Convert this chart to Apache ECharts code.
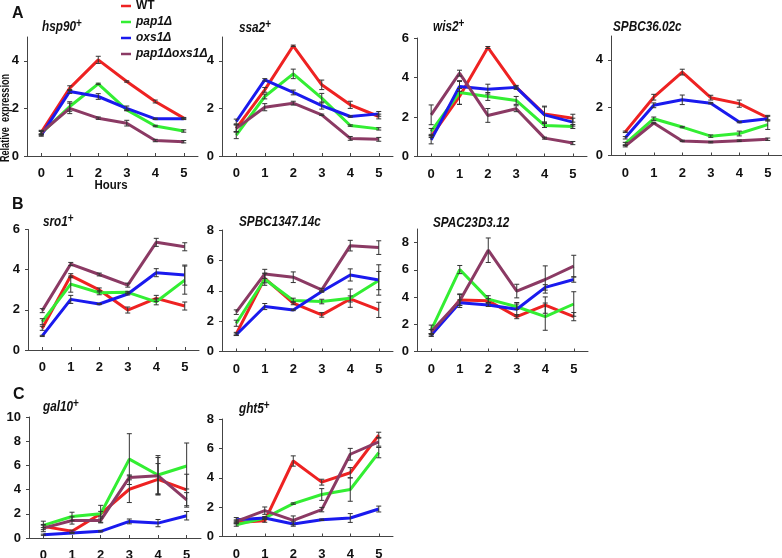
<!DOCTYPE html>
<html><head><meta charset="utf-8">
<script src="https://cdn.jsdelivr.net/npm/echarts@6/dist/echarts.min.js"></script>
<style>html,body{margin:0;padding:0;background:#fff}#c{width:782px;height:558px}</style>
</head><body><div id="c"></div><script>
// ---------- data ----------
const hours = ['0','1','2','3','4','5'];
const strains = ['WT','pap1Δ','oxs1Δ','pap1Δoxs1Δ'];

const hsp90 = [[1.0,2.85,4.04,3.13,2.29,1.59],[0.95,2.08,3.03,1.94,1.26,1.05],[0.88,2.71,2.5,2.0,1.56,1.56],[0.98,2.0,1.59,1.38,0.65,0.6]];
const hsp90Err = [[0.08,0.1,0.15,0.03,0.06,0.03],[0.08,0.2,0.03,0.03,0.03,0.05],[0.05,0.08,0.12,0.1,0.03,0.03],[0.08,0.22,0.05,0.12,0.05,0.05]];

const ssa2 = [[1.16,2.78,4.63,2.99,2.15,1.66],[0.88,2.5,3.45,2.43,1.28,1.14],[1.45,3.2,2.67,2.12,1.66,1.77],[1.16,2.05,2.22,1.73,0.74,0.7]];
const ssa2Err = [[0.15,0.1,0.03,0.2,0.15,0.1],[0.15,0.1,0.2,0.2,0.03,0.05],[0.1,0.05,0.1,0.15,0.03,0.1],[0.15,0.15,0.08,0.03,0.08,0.08]];

const wis2 = [[1.01,3.04,5.52,3.51,2.15,1.94],[1.27,3.24,3.04,2.84,1.57,1.52],[0.84,3.55,3.41,3.5,2.11,1.74],[2.11,4.22,2.08,2.42,0.93,0.68]];
const wis2Err = [[0.05,0.4,0.05,0.05,0.4,0.2],[0.15,0.6,0.2,0.2,0.1,0.1],[0.2,0.25,0.25,0.1,0.4,0.2],[0.5,0.15,0.35,0.15,0.05,0.08]];

const spbc36 = [[0.99,2.44,3.49,2.42,2.17,1.58],[0.5,1.54,1.19,0.81,0.92,1.29],[0.74,2.1,2.33,2.19,1.4,1.54],[0.39,1.36,0.61,0.56,0.62,0.68]];
const spbc36Err = [[0.03,0.12,0.12,0.1,0.15,0.1],[0.05,0.07,0.03,0.05,0.1,0.2],[0.05,0.1,0.2,0.03,0.03,0.1],[0.03,0.03,0.03,0.03,0.03,0.05]];

const sro1 = [[1.08,3.7,2.99,1.99,2.57,2.19],[1.41,3.28,2.85,2.87,2.4,3.48],[0.7,2.52,2.29,2.79,3.85,3.73],[1.96,4.28,3.76,3.23,5.36,5.14]];
const sro1Err = [[0.1,0.1,0.1,0.15,0.15,0.2],[0.15,0.4,0.1,0.05,0.15,0.7],[0.03,0.2,0.03,0.05,0.2,0.5],[0.1,0.08,0.07,0.1,0.2,0.2]];

const spbc1347 = [[1.16,4.82,3.18,2.41,3.46,2.74],[1.86,4.76,3.36,3.29,3.51,4.67],[1.1,2.96,2.74,3.95,5.04,4.71],[2.59,5.11,4.89,4.06,6.97,6.84]];
const spbc1347Err = [[0.1,0.3,0.1,0.15,0.2,0.5],[0.2,0.4,0.15,0.15,0.6,0.6],[0.05,0.2,0.05,0.05,0.4,1.0],[0.15,0.3,0.35,0.1,0.35,0.45]];

const spac23 = [[1.22,3.78,3.73,2.56,3.41,2.56],[1.59,6.02,3.85,3.29,2.56,3.49],[1.22,3.59,3.41,3.1,4.71,5.29],[1.46,3.73,7.44,4.44,5.29,6.27]];
const spac23Err = [[0.1,0.4,0.15,0.15,0.6,0.3],[0.35,0.3,0.25,0.2,1.0,0.9],[0.1,0.2,0.1,0.5,0.2,0.2],[0.15,0.5,0.9,0.5,1.0,0.8]];

const gal10 = [[0.96,0.55,2.0,4.03,4.85,3.97],[1.04,1.78,2.0,6.52,5.21,5.95],[0.27,0.41,0.55,1.37,1.23,1.84],[0.82,1.45,1.45,5.01,5.15,3.15]];
const gal10Err = [[0.1,0.1,0.2,1.1,1.3,1.3],[0.35,0.35,0.7,2.1,1.6,1.9],[0.05,0.05,0.05,0.2,0.3,0.35],[0.3,0.3,0.2,0.2,1.5,0.6]];

const ght5 = [[0.96,1.07,5.14,3.7,4.34,6.9],[0.8,1.26,2.24,2.86,3.2,5.71],[1.14,1.26,0.85,1.14,1.26,1.87],[1.03,1.76,1.1,1.83,5.6,6.45]];
const ght5Err = [[0.1,0.1,0.35,0.2,0.35,0.2],[0.1,0.1,0.05,0.4,0.8,0.35],[0.15,0.05,0.15,0.05,0.3,0.2],[0.1,0.25,0.3,0.15,0.4,0.3]];

// ---------- layout / style ----------
const FONT = "'Liberation Sans',Arial,sans-serif";
const colors = ['#ee2222','#33ee33','#1a1aee','#8b3a64'];
const panels = [
 {g:'hsp90', sup:'+', d:hsp90, e:hsp90Err, max:5, left:27, top:37, w:171, h:119, tx:42, ty:27},
 {g:'ssa2', sup:'+', d:ssa2, e:ssa2Err, max:5, left:222, top:37, w:171, h:119, tx:239, ty:28},
 {g:'wis2', sup:'+', d:wis2, e:wis2Err, max:6, left:417, top:38, w:170, h:118.5, tx:433, ty:27},
 {g:'SPBC36.02c', sup:'', d:spbc36, e:spbc36Err, max:5, left:611, top:36, w:171, h:119.5, tx:613, ty:27},
 {g:'sro1', sup:'+', d:sro1, e:sro1Err, max:6, left:28, top:229.5, w:171, h:120.5, tx:43, ty:222},
 {g:'SPBC1347.14c', sup:'', d:spbc1347, e:spbc1347Err, max:8, left:222, top:230, w:171, h:121.5, tx:239, ty:222},
 {g:'SPAC23D3.12', sup:'', d:spac23, e:spac23Err, max:9, left:417, top:229, w:171, h:122.5, tx:433, ty:223},
 {g:'gal10', sup:'+', d:gal10, e:gal10Err, max:10, left:29, top:417, w:172, h:121, tx:43, ty:407},
 {g:'ght5', sup:'+', d:ght5, e:ght5Err, max:8, left:222, top:419, w:171, h:117.5, tx:239, ty:409}
];

const axisColor = '#444';
const labelStyle = {fontFamily:FONT, fontSize:13, fontWeight:'bold', color:'#111'};

function renderErr(params, api){
  const x = api.value(0), v = api.value(1), e = api.value(2);
  const hi = api.coord([x, v + e]), lo = api.coord([x, v - e]);
  const w = 2.5;
  const style = {stroke:'#333', lineWidth:1};
  return {type:'group', children:[
    {type:'line', shape:{x1:hi[0], y1:hi[1], x2:lo[0], y2:lo[1]}, style},
    {type:'line', shape:{x1:hi[0]-w, y1:hi[1], x2:hi[0]+w, y2:hi[1]}, style},
    {type:'line', shape:{x1:lo[0]-w, y1:lo[1], x2:lo[0]+w, y2:lo[1]}, style}
  ]};
}

const grid = [], xAxis = [], yAxis = [], series = [], graphic = [];
panels.forEach((p, i) => {
  grid.push({left:p.left, top:p.top, width:p.w, height:p.h, containLabel:false, outerBoundsMode:'none'});
  xAxis.push({type:'category', gridIndex:i, data:hours, boundaryGap:true,
    axisLine:{lineStyle:{color:axisColor, width:1}},
    axisTick:{show:true, alignWithLabel:true, inside:true, length:3, lineStyle:{color:axisColor}},
    axisLabel:Object.assign({margin:11}, labelStyle), splitLine:{show:false}});
  const tv = []; for (let v = 0; v <= p.max; v += 2) tv.push(v);
  yAxis.push({type:'value', gridIndex:i, min:0, max:p.max, interval:2,
    axisLine:{show:true, lineStyle:{color:axisColor, width:1}},
    axisTick:{show:true, length:3, customValues:tv, lineStyle:{color:axisColor}},
    axisLabel:Object.assign({margin:8, customValues:tv, formatter:v => (v % 2 === 0 ? String(v) : '')}, labelStyle),
    splitLine:{show:false}});
  strains.forEach((s, k) => {
    series.push({type:'line', name:s, xAxisIndex:i, yAxisIndex:i, data:p.d[k], symbol:'none',
      lineStyle:{width:3, color:colors[k]}, itemStyle:{color:colors[k]}, z:2+k*0.1, silent:true});
  });
  strains.forEach((s, k) => {
    series.push({type:'custom', xAxisIndex:i, yAxisIndex:i, renderItem:renderErr, z:5, silent:true,
      encode:{x:0, y:1}, data:hours.map((h, j) => [j, p.d[k][j], p.e[k][j]])});
  });
  graphic.push({type:'text', x:p.tx, y:p.ty, scaleX:0.84, style:{
    text: p.sup ? '{g|' + p.g + '}{s|' + p.sup + '}' : '{g|' + p.g + '}',
    verticalAlign:'middle',
    rich:{g:{fontFamily:FONT, fontSize:14, fontWeight:'bold', fontStyle:'italic', fill:'#111', lineHeight:18},
          s:{fontFamily:FONT, fontSize:12, fontWeight:'bold', fill:'#111', verticalAlign:'top', lineHeight:12}}}});
});

graphic.push(
  {type:'text', x:12, y:14, style:{text:'A', fontFamily:FONT, fontSize:16, fontWeight:'bold', fill:'#111', verticalAlign:'middle'}},
  {type:'text', x:12, y:205, style:{text:'B', fontFamily:FONT, fontSize:16, fontWeight:'bold', fill:'#111', verticalAlign:'middle'}},
  {type:'text', x:13, y:395, style:{text:'C', fontFamily:FONT, fontSize:16, fontWeight:'bold', fill:'#111', verticalAlign:'middle'}},
  {type:'text', x:6, y:118, rotation:Math.PI/2, scaleX:0.76, style:{text:'Relative  expression', fontFamily:FONT, fontSize:12, fontWeight:'bold', fill:'#111', align:'center', verticalAlign:'middle'}},
  {type:'text', x:111, y:185, scaleX:0.88, style:{text:'Hours', fontFamily:FONT, fontSize:13, fontWeight:'bold', fill:'#111', align:'center', verticalAlign:'middle'}}
);

const chart = echarts.init(document.getElementById('c'), null, {renderer:'canvas'});
chart.setOption({
  animation:false,
  backgroundColor:'#fff',
  legend:{orient:'vertical', left:121, top:0, padding:0, data:strains, icon:'rect', itemWidth:10, itemHeight:2.5, itemGap:4,
    selectedMode:false,
    formatter: n => n === 'WT' ? '{n|' + n + '}' : '{i|' + n + '}',
    textStyle:{rich:{
      n:{fontFamily:FONT, fontSize:12, fontWeight:'bold', color:'#111', lineHeight:13},
      i:{fontFamily:FONT, fontSize:12, fontWeight:'bold', fontStyle:'italic', color:'#111', lineHeight:13}}}},
  grid, xAxis, yAxis, series, graphic
});
</script></body></html>
